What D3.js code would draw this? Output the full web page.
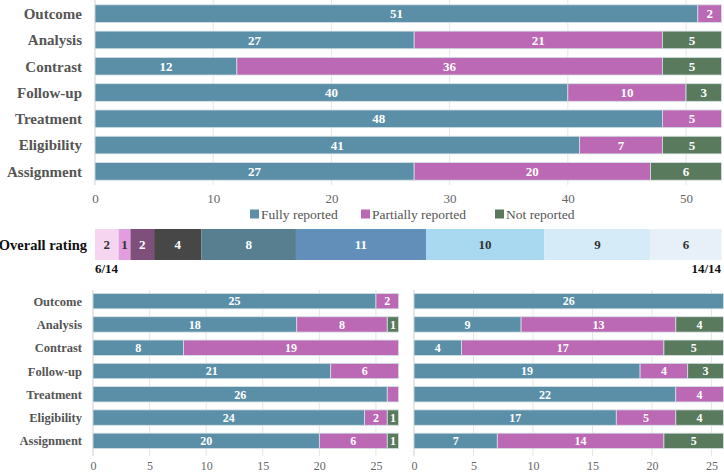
<!DOCTYPE html>
<html><head><meta charset="utf-8">
<script src="https://cdn.jsdelivr.net/npm/d3@7"></script>
<style>
body{margin:0;background:#fff;}
svg{display:block;font-family:"Liberation Serif","DejaVu Serif","Times New Roman",serif;}
</style></head>
<body><svg id="c" width="724" height="472"></svg>
<script>
const categories = ["Outcome","Analysis","Contrast","Follow-up","Treatment","Eligibility","Assignment"];
const seriesNames = ["Fully reported","Partially reported","Not reported"];
const seriesColors = ["#5b8fa8","#bb69b4","#5a7a5e"];

// overall panel
const allFully   = [51,27,12,40,48,41,27];
const allPartial = [2,21,36,10,5,7,20];
const allNot     = [0,5,5,3,0,5,6];
const allTicks   = [0,10,20,30,40,50];

// bottom-left panel
const leftFully   = [25,18,8,21,26,24,20];
const leftPartial = [2,8,19,6,1,2,6];
const leftNot     = [0,1,0,0,0,1,1];
const leftTicks   = [0,5,10,15,20,25];
const leftHiddenLabels = [["Treatment",1]]; // [category, series index]

// bottom-right panel
const rightFully   = [26,9,4,19,22,17,7];
const rightPartial = [0,13,17,4,4,5,14];
const rightNot     = [0,4,5,3,0,4,5];
const rightTicks   = [0,5,10,15,20,25];

// overall rating strip
const ratingCounts = [2,1,2,4,8,11,10,9,6];
const ratingColors = ["#f6d5f1","#e19ddd","#7e4f7b","#474747","#587f8f","#628fb9","#a9d9f1","#d5ecf8","#e7eff8"];
const ratingText   = ["#333","#333","#fff","#fff","#fff","#fff","#333","#333","#333"];
const ratingEnds   = ["6/14","14/14"];

const FONT = "Liberation Serif, DejaVu Serif, serif";
const svg = d3.select("#c");

function panel(o){
  const g = svg.append("g");
  const x = d3.scaleLinear().domain([0,o.max]).range([o.x0,o.x1]);
  const y = d3.scaleBand().domain(categories).range([o.y0,o.y1]).paddingInner(o.pad).paddingOuter(o.pad/2);
  g.selectAll("line.grid").data(o.ticks).join("line")
    .attr("x1",d=>x(d)).attr("x2",d=>x(d))
    .attr("y1",o.gy0).attr("y2",o.gy1)
    .attr("stroke",d=>d===0?"#cfcfcf":"#e6e6e6").attr("stroke-width",1);
  const rows = categories.map((c,i)=>({c, v:[o.fully[i],o.partial[i],o.not[i]]}));
  rows.forEach(r=>{
    let acc=0;
    r.v.forEach((v,s)=>{
      if(v<=0) return;
      const a=acc; acc+=v;
      g.append("rect").attr("x",x(a)).attr("y",y(r.c)).attr("width",x(acc)-x(a)).attr("height",y.bandwidth())
        .attr("fill",seriesColors[s]).attr("stroke","#d4e0e3").attr("stroke-width",0.8);
      const hidden = (o.hidden||[]).some(h=>h[0]===r.c&&h[1]===s);
      if(!hidden){
        g.append("text").attr("x",(x(a)+x(acc))/2).attr("y",y(r.c)+y.bandwidth()/2)
          .attr("dy","0.36em").attr("text-anchor","middle").attr("fill","#fff")
          .attr("font-weight","bold").attr("font-size",o.vfs).text(v);
      }
    });
  });
  if(o.labels){
    g.selectAll("text.cat").data(categories).join("text")
      .attr("x",o.lx).attr("y",d=>y(d)+y.bandwidth()/2).attr("dy","0.36em")
      .attr("text-anchor","end").attr("fill","#555").attr("font-weight","bold")
      .attr("font-size",o.lfs).text(d=>d);
  }
  const ax = g.append("g").attr("transform",`translate(0,${o.ty})`)
    .call(d3.axisBottom(x).tickValues(o.ticks).tickSize(0).tickPadding(0));
  ax.select(".domain").remove();
  ax.selectAll("text").attr("fill","#666").attr("font-size",o.tfs).attr("font-family",FONT);
  return x;
}

const xTop = panel({max:53,x0:95,x1:721.5,y0:0.5,y1:184.5,pad:0.33,gy0:0,gy1:185,
  fully:allFully,partial:allPartial,not:allNot,ticks:allTicks,labels:true,lx:82,lfs:15,vfs:13,tfs:13,ty:194});

panel({max:27,x0:93,x1:398.6,y0:289.5,y1:452.5,pad:0.34,gy0:290,gy1:456,
  fully:leftFully,partial:leftPartial,not:leftNot,ticks:leftTicks,labels:true,lx:82,lfs:12.5,vfs:12,tfs:12,ty:461,
  hidden:leftHiddenLabels});

panel({max:26,x0:414,x1:723.4,y0:289.5,y1:452.5,pad:0.34,gy0:290,gy1:456,
  fully:rightFully,partial:rightPartial,not:rightNot,ticks:rightTicks,labels:false,vfs:12,tfs:12,ty:461});

// legend
const leg = svg.append("g");
const legX = [250,361,495];
seriesNames.forEach((n,i)=>{
  leg.append("rect").attr("x",legX[i]).attr("y",209.5).attr("width",9).attr("height",9).attr("fill",seriesColors[i]);
  leg.append("text").attr("x",legX[i]+11).attr("y",214).attr("dy","0.36em").attr("fill","#555")
    .attr("font-size",13.5).text(n);
});

// overall rating strip
const rg = svg.append("g");
let acc=0;
ratingCounts.forEach((v,i)=>{
  const a=acc; acc+=v;
  rg.append("rect").attr("x",xTop(a)).attr("y",229).attr("width",xTop(acc)-xTop(a)).attr("height",31).attr("fill",ratingColors[i]);
  rg.append("text").attr("x",(xTop(a)+xTop(acc))/2).attr("y",244.5).attr("dy","0.36em").attr("text-anchor","middle")
    .attr("fill",ratingText[i]).attr("font-weight","bold").attr("font-size",13).text(v);
});
rg.append("text").attr("x",87).attr("y",244.5).attr("dy","0.36em").attr("text-anchor","end")
  .attr("font-weight","bold").attr("font-size",14.5).attr("fill","#111").text("Overall rating");
rg.append("text").attr("x",95).attr("y",268).attr("dy","0.36em").attr("font-weight","bold").attr("font-size",13).attr("fill","#111").text(ratingEnds[0]);
rg.append("text").attr("x",721).attr("y",268).attr("dy","0.36em").attr("text-anchor","end").attr("font-weight","bold").attr("font-size",13).attr("fill","#111").text(ratingEnds[1]);
</script></body></html>
